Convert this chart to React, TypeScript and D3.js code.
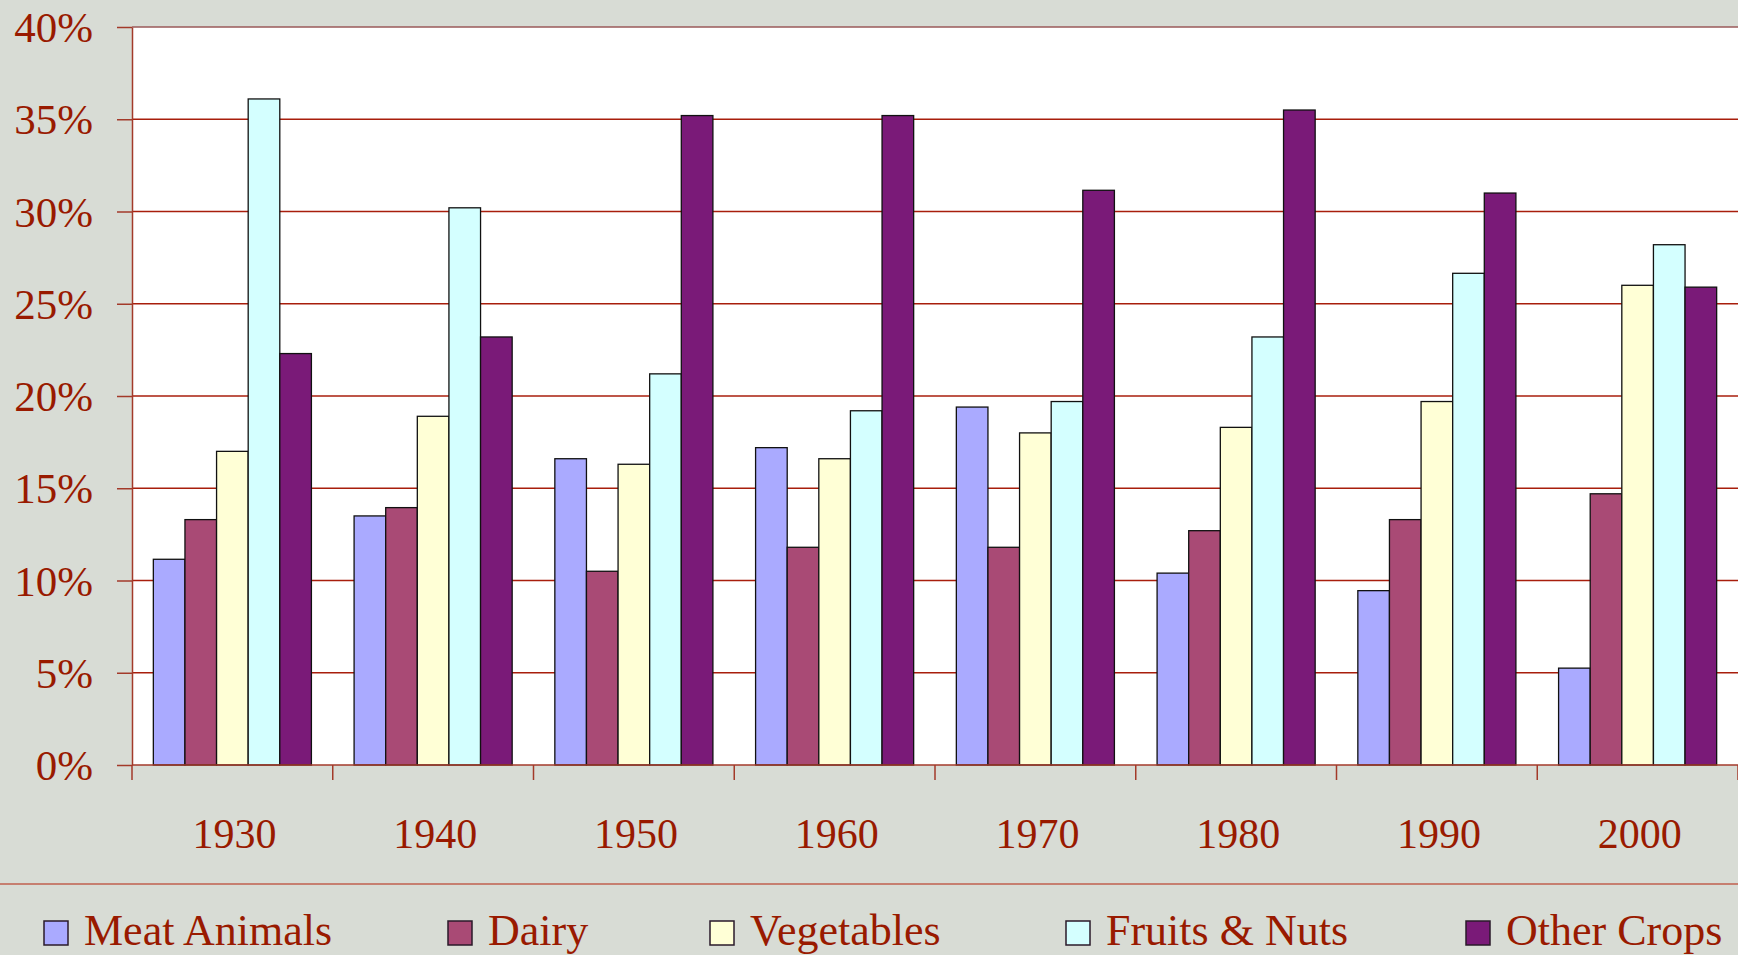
import { useEffect, useRef } from "react";
import * as d3 from "d3";

const decades = ["1930", "1940", "1950", "1960", "1970", "1980", "1990", "2000"];
const seriesNames = ["Meat Animals", "Dairy", "Vegetables", "Fruits & Nuts", "Other Crops"];
const meatAnimals = [11.15, 13.5, 16.6, 17.2, 19.4, 10.4, 9.45, 5.25];
const dairy = [13.3, 13.95, 10.5, 11.8, 11.8, 12.7, 13.3, 14.7];
const vegetables = [17.0, 18.9, 16.3, 16.6, 18.0, 18.3, 19.7, 26.0];
const fruitsNuts = [36.1, 30.2, 21.2, 19.2, 19.7, 23.2, 26.65, 28.2];
const otherCrops = [22.3, 23.2, 35.2, 35.2, 31.15, 35.5, 31.0, 25.9];
const seriesColors = ["#aaaaff", "#a94a75", "#ffffd6", "#d4ffff", "#7a1a78"];
const yTicks = [0, 5, 10, 15, 20, 25, 30, 35, 40];

const W = 1738;
const H = 955;
const TEXT = "#991a00";
const FONT = "'Liberation Serif', 'Times New Roman', serif";
// legend swatch positions (layout)
const legendX = [44, 448, 710, 1066, 1466];

const App = () => {
  const svgRef = useRef<SVGSVGElement | null>(null);

  useEffect(() => {
    document.body.style.margin = "0";
    const svg = d3.select(svgRef.current);
    svg.selectAll("*").remove();

    const values = [meatAnimals, dairy, vegetables, fruitsNuts, otherCrops];
    const left = 132;
    const top = 27;
    const bottom = 765;

    svg.append("rect").attr("width", W).attr("height", H).attr("fill", "#d8dcd5");

    const x0 = d3.scaleBand().domain(decades).range([left, W]).padding(0);
    const x1 = d3
      .scaleBand()
      .domain(seriesNames)
      .range([0, x0.bandwidth()])
      .paddingInner(0)
      .paddingOuter(0.675);
    const y = d3.scaleLinear().domain([0, 40]).range([bottom, top]);

    // plot area
    svg
      .append("rect")
      .attr("x", left)
      .attr("y", top)
      .attr("width", W - left)
      .attr("height", bottom - top)
      .attr("fill", "#ffffff");

    // gridlines
    svg
      .append("g")
      .selectAll("line")
      .data(yTicks.filter((t) => t > 0 && t < 40))
      .enter()
      .append("line")
      .attr("x1", left)
      .attr("x2", W)
      .attr("y1", (d) => y(d))
      .attr("y2", (d) => y(d))
      .attr("stroke", "#a81e0c")
      .attr("stroke-width", 1.4);

    svg
      .append("line")
      .attr("x1", left)
      .attr("x2", W)
      .attr("y1", y(40))
      .attr("y2", y(40))
      .attr("stroke", "#9a5a58")
      .attr("stroke-width", 1.5);

    // bars
    const groups = svg
      .append("g")
      .selectAll("g")
      .data(decades)
      .enter()
      .append("g")
      .attr("transform", (d) => `translate(${x0(d)},0)`);

    groups
      .selectAll("rect")
      .data((d, i) => seriesNames.map((s, j) => ({ s, j, v: values[j][i] })))
      .enter()
      .append("rect")
      .attr("x", (d) => x1(d.s) as number)
      .attr("y", (d) => y(d.v))
      .attr("width", x1.bandwidth())
      .attr("height", (d) => bottom - y(d.v))
      .attr("fill", (d) => seriesColors[d.j])
      .attr("stroke", "#111")
      .attr("stroke-width", 1.3);

    // y axis
    const yAxis = d3
      .axisLeft(y)
      .tickValues(yTicks)
      .tickFormat((d) => `${d}%`)
      .tickSize(15)
      .tickSizeOuter(0)
      .tickPadding(24);
    const yg = svg.append("g").attr("transform", `translate(${left},0)`).call(yAxis);
    yg.select(".domain").attr("stroke", "#a33a2a").attr("stroke-width", 1.5);
    yg.selectAll(".tick line").attr("stroke", "#a33a2a").attr("stroke-width", 1.5);
    yg.selectAll(".tick text")
      .attr("fill", TEXT)
      .attr("font-family", FONT)
      .attr("font-size", 43)
      .attr("dy", "0.34em");

    // x axis
    const bounds = decades.map((d) => x0(d) as number).concat([W]);
    const xg = svg.append("g");
    xg.append("line")
      .attr("x1", left)
      .attr("x2", W)
      .attr("y1", bottom)
      .attr("y2", bottom)
      .attr("stroke", "#a33a2a")
      .attr("stroke-width", 1.5);
    xg.selectAll(".xt")
      .data(bounds)
      .enter()
      .append("line")
      .attr("class", "xt")
      .attr("x1", (d) => d)
      .attr("x2", (d) => d)
      .attr("y1", bottom)
      .attr("y2", bottom + 15)
      .attr("stroke", "#a33a2a")
      .attr("stroke-width", 1.5);
    xg.selectAll(".xl")
      .data(decades)
      .enter()
      .append("text")
      .attr("class", "xl")
      .attr("x", (d) => (x0(d) as number) + x0.bandwidth() / 2 + 2)
      .attr("y", 848)
      .attr("text-anchor", "middle")
      .attr("fill", TEXT)
      .attr("font-family", FONT)
      .attr("font-size", 42)
      .text((d) => d);

    // legend
    svg
      .append("line")
      .attr("x1", 0)
      .attr("x2", W)
      .attr("y1", 884)
      .attr("y2", 884)
      .attr("stroke", "#c0604e")
      .attr("stroke-width", 1.5);

    const legend = svg
      .append("g")
      .selectAll("g")
      .data(seriesNames)
      .enter()
      .append("g")
      .attr("transform", (d, i) => `translate(${legendX[i]},0)`);
    legend
      .append("rect")
      .attr("y", 921)
      .attr("width", 24)
      .attr("height", 24)
      .attr("fill", (d, i) => seriesColors[i])
      .attr("stroke", "#2a1a2a")
      .attr("stroke-width", 1.5);
    legend
      .append("text")
      .attr("x", 40)
      .attr("y", 945)
      .attr("fill", TEXT)
      .attr("font-family", FONT)
      .attr("font-size", 44)
      .text((d) => d);
  }, []);

  return <svg ref={svgRef} width={W} height={H} style={{ display: "block" }} />;
};

export default App;
